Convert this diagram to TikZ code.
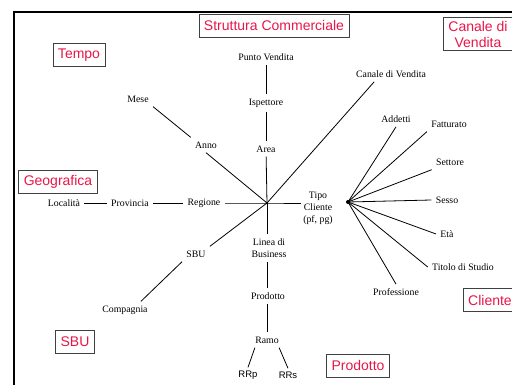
\documentclass[tikz,border=0pt]{standalone}
\usepackage{fontspec}
\setmainfont{Liberation Serif}
\newfontfamily\boxfont{Liberation Sans}
\definecolor{dimred}{RGB}{232,22,72}

\begin{document}
\begin{tikzpicture}[x=1pt, y=-1pt, line width=0.8pt,
	lbl/.style={inner xsep=4pt, inner ysep=4pt, font=\fontsize{9.8}{12}\selectfont, align=center},
	sflbl/.style={inner sep=3pt, font=\boxfont\fontsize{9.5}{11}\selectfont},
	dim/.style={draw=black!75, line width=0.8pt, inner xsep=5pt, minimum height=23pt, text=dimred, font=\boxfont\fontsize{14}{16}\selectfont, align=center}]
	\useasboundingbox (0,0) rectangle (512,385);
	\clip (0,0) rectangle (512,385);
	\draw[line width=1.6pt] (14,12) rectangle (560,420);

	% dimensioni
	\node[dim] (d-tempo) at (79,55) {Tempo};
	\node[dim] (d-struttura) at (274,25.5) {Struttura Commerciale};
	\node[dim, inner ysep=3pt] (d-canale) at (478,34) {Canale di\\Vendita};
	\node[dim] (d-geo) at (58,181.5) {Geografica};
	\node[dim] (d-sbu) at (75,341.5) {SBU};
	\node[dim] (d-prodotto) at (358,365.5) {Prodotto};
	\node[dim] (d-cliente) at (490,300) {Cliente};

	% centro stella
	\coordinate (c) at (267,203);
	\fill (c) circle (1.3pt);

	% struttura commerciale
	\node[lbl] (punto) at (266,57) {Punto Vendita};
	\node[lbl] (ispettore) at (266,103) {Ispettore};
	\node[lbl] (area) at (266,149) {Area};
	\draw (punto) -- (ispettore);
	\draw (ispettore) -- (area);
	\draw (area) -- (c);

	% canale
	\node[lbl] (canale) at (391,74) {Canale di Vendita};
	\draw (c) -- (canale.205);

	% tempo
	\node[lbl] (mese) at (138,99) {Mese};
	\node[lbl] (anno) at (206,145) {Anno};
	\draw (mese.south east) -- (anno.north west);
	\draw (anno.south) -- (c);

	% geografica
	\node[lbl] (localita) at (64,203) {Località};
	\node[lbl] (provincia) at (130,203) {Provincia};
	\node[lbl] (regione) at (204,203) {Regione};
	\draw (localita) -- (provincia);
	\draw (provincia) -- (regione);

	% cliente
	\node[lbl, inner xsep=2pt] (tipo) at (318,208) {Tipo\\Cliente\\(pf, pg)};
	\draw (regione) -- (c) -- (c -| tipo.west);

	\coordinate (hub) at (348,202);
	\fill (hub) circle (2pt);
	\node[lbl] (addetti) at (396,119) {Addetti};
	\node[lbl] (fatturato) at (449,124) {Fatturato};
	\node[lbl] (settore) at (450,162) {Settore};
	\node[lbl] (sesso) at (447,200) {Sesso};
	\node[lbl] (eta) at (447,234) {Età};
	\node[lbl] (titolo) at (463,267) {Titolo di Studio};
	\node[lbl] (professione) at (396,292) {Professione};
	\draw (hub) -- (addetti.south);
	\draw (hub) -- (fatturato.south west);
	\draw (hub) -- (settore.south west);
	\draw (hub) -- (sesso.west);
	\draw (hub) -- (eta.west);
	\draw (hub) -- (titolo.west);
	\draw (hub) -- (professione.north);

	% prodotto
	\node[lbl] (linea) at (269,248) {Linea di\\Business};
	\node[lbl] (prodotto) at (268,296) {Prodotto};
	\node[lbl] (ramo) at (267,340) {Ramo};
	\node[sflbl] (rrp) at (248,375) {RRp};
	\node[sflbl] (rrs) at (288,375) {RRs};
	\draw (c) -- (c |- linea.north);
	\draw (linea.south -| c) -- (prodotto.north -| c);
	\draw (prodotto.south -| c) -- (ramo.north -| c);
	\draw (ramo.south west) ++(4,0) -- (rrp.north);
	\draw (ramo.south east) ++(-4,0) -- (rrs.north);

	% sbu
	\node[lbl] (sbu) at (196,254) {SBU};
	\node[lbl] (compagnia) at (125,310) {Compagnia};
	\draw (c) -- (sbu.north east);
	\draw (sbu.south west) -- ([xshift=-11pt]compagnia.north east);
\end{tikzpicture}
\end{document}
